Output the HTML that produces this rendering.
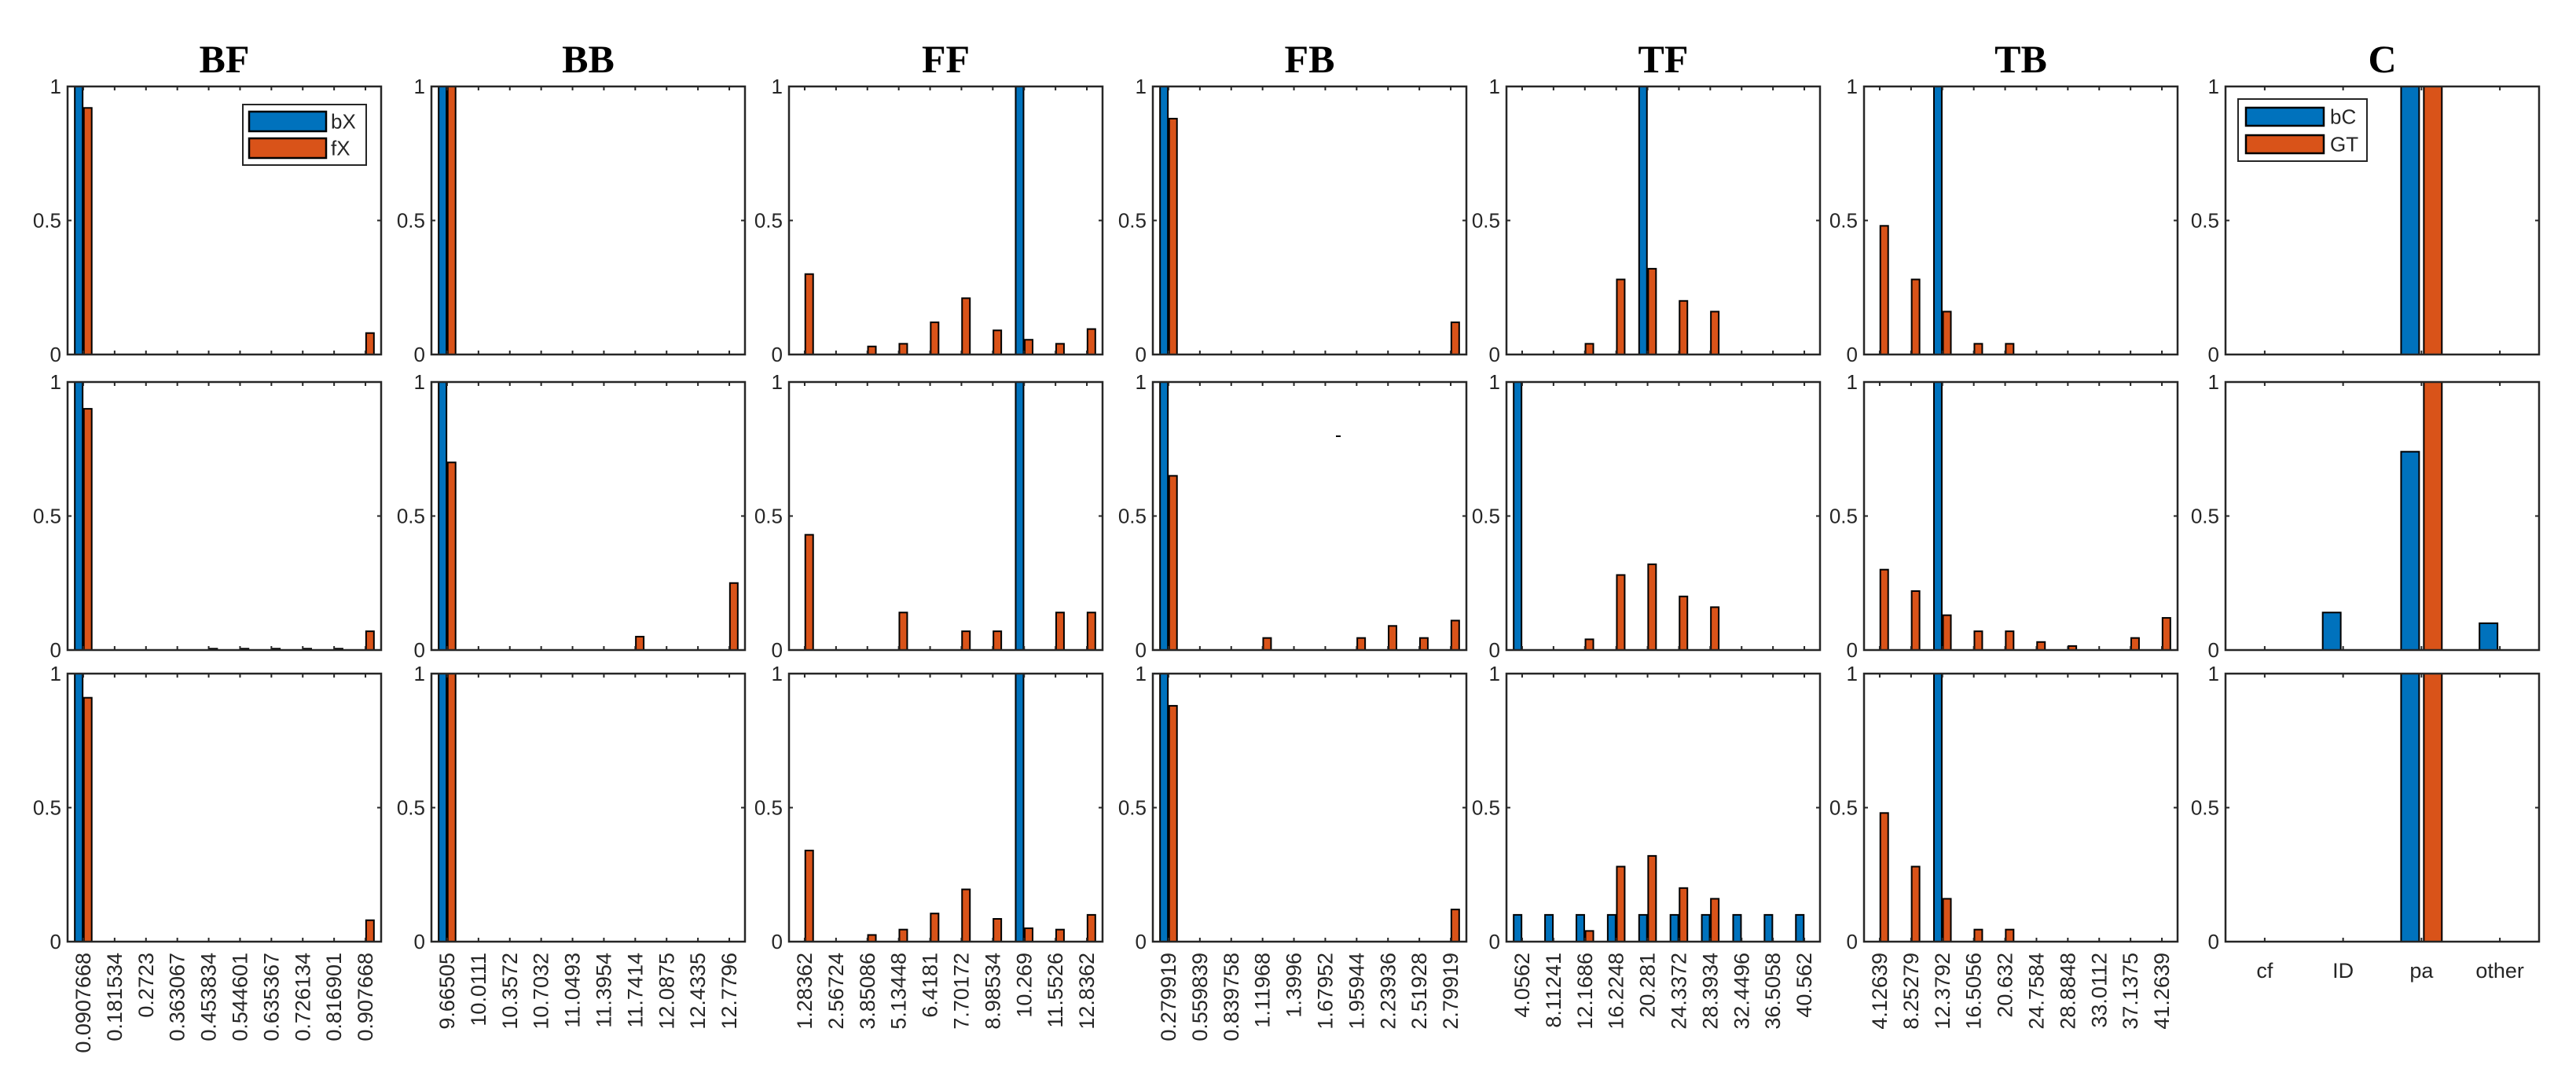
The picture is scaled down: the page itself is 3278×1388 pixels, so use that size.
<!DOCTYPE html>
<html><head><meta charset="utf-8"><style>
html,body{margin:0;padding:0;background:#fff;}
svg{display:block;font-family:"Liberation Sans",sans-serif;}
</style></head><body>
<svg id="fig" width="3278" height="1388" viewBox="0 0 3278 1388" xmlns="http://www.w3.org/2000/svg"></svg>
<script>
// ---- data ----
const panelTitles = ["BF","BB","FF","FB","TF","TB","C"];
const catsBF = ["0.0907668","0.181534","0.2723","0.363067","0.453834","0.544601","0.635367","0.726134","0.816901","0.907668"];
const catsBB = ["9.66505","10.0111","10.3572","10.7032","11.0493","11.3954","11.7414","12.0875","12.4335","12.7796"];
const catsFF = ["1.28362","2.56724","3.85086","5.13448","6.4181","7.70172","8.98534","10.269","11.5526","12.8362"];
const catsFB = ["0.279919","0.559839","0.839758","1.11968","1.3996","1.67952","1.95944","2.23936","2.51928","2.79919"];
const catsTF = ["4.0562","8.11241","12.1686","16.2248","20.281","24.3372","28.3934","32.4496","36.5058","40.562"];
const catsTB = ["4.12639","8.25279","12.3792","16.5056","20.632","24.7584","28.8848","33.0112","37.1375","41.2639"];
const catsC = ["cf","ID","pa","other"];
const yTicks = [0,0.5,1];
const yTickLabels = ["0","0.5","1"];
// series: [row][blue, orange]
const BF_blue = [[1,0,0,0,0,0,0,0,0,0],[1,0,0,0,0,0,0,0,0,0],[1,0,0,0,0,0,0,0,0,0]];
const BF_orange = [[0.92,0,0,0,0,0,0,0,0,0.08],[0.9,0,0,0,0.005,0.005,0.005,0.005,0.005,0.07],[0.91,0,0,0,0,0,0,0,0,0.08]];
const BB_blue = [[1,0,0,0,0,0,0,0,0,0],[1,0,0,0,0,0,0,0,0,0],[1,0,0,0,0,0,0,0,0,0]];
const BB_orange = [[1,0,0,0,0,0,0,0,0,0],[0.7,0,0,0,0,0,0.05,0,0,0.25],[1,0,0,0,0,0,0,0,0,0]];
const FF_blue = [[0,0,0,0,0,0,0,1,0,0],[0,0,0,0,0,0,0,1,0,0],[0,0,0,0,0,0,0,1,0,0]];
const FF_orange = [[0.30,0,0.03,0.04,0.12,0.21,0.09,0.055,0.04,0.095],[0.43,0,0,0.14,0,0.07,0.07,0,0.14,0.14],[0.34,0,0.025,0.045,0.105,0.195,0.085,0.05,0.045,0.1]];
const FB_blue = [[1,0,0,0,0,0,0,0,0,0],[1,0,0,0,0,0,0,0,0,0],[1,0,0,0,0,0,0,0,0,0]];
const FB_orange = [[0.88,0,0,0,0,0,0,0,0,0.12],[0.65,0,0,0.045,0,0,0.045,0.09,0.045,0.11],[0.88,0,0,0,0,0,0,0,0,0.12]];
const TF_blue = [[0,0,0,0,1,0,0,0,0,0],[1,0,0,0,0,0,0,0,0,0],[0.1,0.1,0.1,0.1,0.1,0.1,0.1,0.1,0.1,0.1]];
const TF_orange = [[0,0,0.04,0.28,0.32,0.2,0.16,0,0,0],[0,0,0.04,0.28,0.32,0.2,0.16,0,0,0],[0,0,0.04,0.28,0.32,0.2,0.16,0,0,0]];
const TB_blue = [[0,0,1,0,0,0,0,0,0,0],[0,0,1,0,0,0,0,0,0,0],[0,0,1,0,0,0,0,0,0,0]];
const TB_orange = [[0.48,0.28,0.16,0.04,0.04,0,0,0,0,0],[0.3,0.22,0.13,0.07,0.07,0.03,0.015,0,0.045,0.12],[0.48,0.28,0.16,0.045,0.045,0,0,0,0,0]];
const C_blue = [[0,0,1,0],[0,0.14,0.74,0.1],[0,0,1,0]];
const C_orange = [[0,0,1,0],[0,0,1,0],[0,0,1,0]];

// ---- layout ----
const NS = "http://www.w3.org/2000/svg";
const svg = document.getElementById('fig');
const colLeft = [86,549,1004,1467,1917,2372,2832];
const rowTop = [110,486,857];
const AW = 399, AH = 341;
const BLUE = "#0072BD", ORANGE = "#D95319", AX = "#262626";
function mk(tag, attrs, parent){ const e=document.createElementNS(NS,tag); for(const k in attrs) e.setAttribute(k,attrs[k]); (parent||svg).appendChild(e); return e; }

const panels = [
  {cats:catsBF, blue:BF_blue, orange:BF_orange},
  {cats:catsBB, blue:BB_blue, orange:BB_orange},
  {cats:catsFF, blue:FF_blue, orange:FF_orange},
  {cats:catsFB, blue:FB_blue, orange:FB_orange},
  {cats:catsTF, blue:TF_blue, orange:TF_orange},
  {cats:catsTB, blue:TB_blue, orange:TB_orange},
  {cats:catsC, blue:C_blue, orange:C_orange}
];

panels.forEach((p, c) => {
  const x0 = colLeft[c];
  const t = mk('text',{x:x0+AW/2, y:92, 'text-anchor':'middle', 'font-family':'"Liberation Serif",serif', 'font-weight':'bold', 'font-size':50, fill:'#000'});
  
  
  t.textContent = panelTitles[c];
  const n = p.cats.length;
  const unit = AW/n;
  const bw = (c===6?0.23:0.25)*unit, off = 0.145*unit;
  for(let r=0;r<3;r++){
    const y0 = rowTop[r], yb = y0+AH;
    const xS = i => x0 + (i+0.5)*unit;
    const yS = v => yb - v*AH;
    const g = mk('g',{});
    
    
    mk('rect',{x:x0,y:y0,width:AW,height:AH,fill:'#fff'},g);
    // bars
    for(let i=0;i<n;i++){
      [[p.blue[r][i],-off,BLUE,'blue'],[p.orange[r][i],off,ORANGE,'orange']].forEach(([v,o,col,nm])=>{
        if(v<=0) return;
        const h = v*AH;
        const b = mk('rect',{x:xS(i)+o-bw/2, y:yS(v), width:bw, height:h, fill:col, stroke:'#000','stroke-width':2},g);
        
        
      });
    }
    // ticks
    for(let i=0;i<n;i++){
      mk('line',{x1:xS(i),x2:xS(i),y1:yb,y2:yb-5,stroke:AX,'stroke-width':2},g);
      mk('line',{x1:xS(i),x2:xS(i),y1:y0,y2:y0+5,stroke:AX,'stroke-width':2},g);
    }
    yTicks.forEach((v,k)=>{
      mk('line',{x1:x0,x2:x0+5,y1:yS(v),y2:yS(v),stroke:AX,'stroke-width':2},g);
      mk('line',{x1:x0+AW,x2:x0+AW-5,y1:yS(v),y2:yS(v),stroke:AX,'stroke-width':2},g);
      const tl = mk('text',{x:x0-8,y:yS(v)+9,'text-anchor':'end','font-size':26,fill:AX},g);
      
      
      tl.textContent = yTickLabels[k];
    });
    mk('rect',{x:x0,y:y0,width:AW,height:AH,fill:'none',stroke:AX,'stroke-width':2.5},g);
    if(r===2){
      for(let i=0;i<n;i++){
        let xl;
        if(c===6){
          xl = mk('text',{x:xS(i), y:1244,'text-anchor':'middle','font-size':27,fill:AX},g);
        } else {
          xl = mk('text',{transform:'translate('+(xS(i)+9)+',1212) rotate(-90)','text-anchor':'end','font-size':27,fill:AX},g);
        }
        
        
        xl.textContent = p.cats[i];
      }
    }
  }
});

// small artifact in FB row 2
mk('line',{x1:1700,x2:1706,y1:555,y2:555,stroke:'#000','stroke-width':2});

// legends
function legend(x,y,w,h,sx,sw,sh,sy1,sy2,tx,labels,name){
  const g = mk('g',{});
  
  
  mk('rect',{x:x,y:y,width:w,height:h,fill:'#fff',stroke:AX,'stroke-width':2},g);
  [[sy1,BLUE,labels[0]],[sy2,ORANGE,labels[1]]].forEach(([yy,col,lab])=>{
    const s = mk('rect',{x:sx,y:yy,width:sw,height:sh,fill:col,stroke:'#000','stroke-width':2.5},g);
    
    
    const t = mk('text',{x:tx,y:yy+sh/2+9,'font-size':26,fill:AX},g);
    
    
    t.textContent = lab;
  });
}
legend(309,133,157,77,317,98,25,142,176,421,["bX","fX"],'legend-bf');
legend(2848,126,164,79,2858,99,23,137,172,2965,["bC","GT"],'legend-c');
</script>
</body></html>
